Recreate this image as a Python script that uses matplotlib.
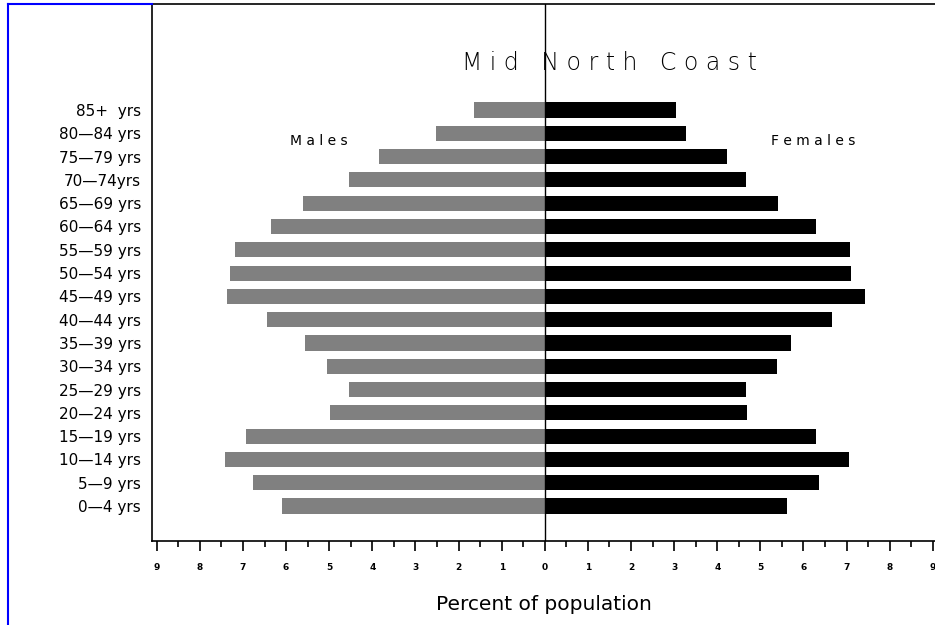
import numpy as np
import matplotlib.pyplot as plt
from matplotlib.lines import Line2D

age_groups = ['0\u20144 yrs', '5\u20149 yrs', '10\u201414 yrs', '15\u201419 yrs', '20\u201424 yrs',
              '25\u201429 yrs', '30\u201434 yrs', '35\u201439 yrs', '40\u201444 yrs', '45\u201449 yrs',
              '50\u201454 yrs', '55\u201459 yrs', '60\u201464 yrs', '65\u201469 yrs', '70\u201474yrs',
              '75\u201479 yrs', '80\u201484 yrs', '85+  yrs']
males = [6.10, 6.77, 7.42, 6.94, 4.99, 4.55, 5.06, 5.55, 6.45, 7.38,
         7.29, 7.19, 6.36, 5.61, 4.55, 3.85, 2.53, 1.65]
females = [5.61, 6.36, 7.05, 6.29, 4.70, 4.67, 5.39, 5.71, 6.65, 7.43,
           7.11, 7.08, 6.29, 5.41, 4.67, 4.22, 3.27, 3.05]
xticks = list(range(-9, 10))

fig = plt.figure(figsize=(9.35, 6.25), dpi=100)
ax = fig.add_axes([152/935, 1 - 541/625, 783/935, 537/625])

y = np.arange(len(age_groups))
ax.barh(y, -np.array(males), height=0.65, color='#808080')
ax.barh(y, females, height=0.65, color='black')
ax.axvline(0, color='black', lw=1)

ax.set_xlim(-9.11, 9.05)
ax.set_ylim(-1.5, 21.55)
ax.set_xticks(xticks)
ax.set_xticklabels([str(abs(t)) for t in xticks], fontsize=6.5, fontweight='bold')
ax.set_xticks(np.arange(-8.5, 9, 1), minor=True)
ax.tick_params(axis='x', which='major', length=7.5, width=1.2, direction='out', pad=8)
ax.tick_params(axis='x', which='minor', length=4.3, width=1.2, direction='out')
ax.set_yticks(y)
ax.set_yticklabels(age_groups, fontsize=11, fontfamily='DejaVu Sans')
ax.tick_params(axis='y', length=0, pad=8)
ax.spines['right'].set_visible(False)
for s in ('left', 'top', 'bottom'):
    ax.spines[s].set_linewidth(1.2)

ax.set_xlabel('Percent of population', fontsize=14.5, labelpad=17)

ax.text(1.5, 19.0, 'M i d   N o r t h   C o a s t', fontsize=17,
        fontweight='light', ha='center', va='center')
ax.text(-5.24, 15.67, 'M a l e s', fontsize=10, ha='center', va='center')
ax.text(6.23, 15.67, 'F e m a l e s', fontsize=10, ha='center', va='center')

# blue page border
fig.add_artist(Line2D([8/935, 8/935], [0, 1 - 4/625], color='blue', lw=1.5))
fig.add_artist(Line2D([8/935, 152/935], [1 - 4/625, 1 - 4/625], color='blue', lw=1.5))

fig.savefig('out.png', dpi=100)
